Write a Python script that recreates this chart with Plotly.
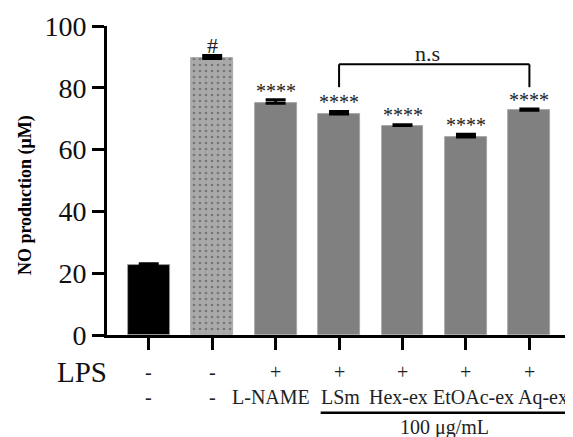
import plotly.graph_objects as go

# ---- data ----
groups = ["Control", "LPS", "L-NAME", "LSm", "Hex-ex", "EtOAc-ex", "Aq-ex"]
no_mean = [22.5, 89.5, 75.0, 71.5, 67.8, 64.1, 72.7]
no_err = [0.55, 0.95, 1.1, 0.8, 0.25, 0.9, 0.4]
lps_row = ["-", "-", "+", "+", "+", "+", "+"]
treat_row = ["-", "-", "L-NAME", "LSm", "Hex-ex", "EtOAc-ex", "Aq-ex"]
sig_marks = ["", "#", "****", "****", "****", "****", "****"]
y_ticks = [0, 20, 40, 60, 80, 100]
ns_pair = (3, 6)
ns_label = "n.s"
conc_label = "100 μg/mL"

# layout-only offsets of the treatment labels (category units)
treat_shift = [0, 0, -0.08, 0.02, -0.07, 0.126, 0.21]

FONT = "Liberation Serif"
x = list(range(len(groups)))

colors = ["#000000", "#a9a9a9", "#808080", "#808080", "#808080", "#808080", "#808080"]
shapes_pat = ["", ".", "", "", "", "", ""]

X0, X1 = -0.658, 6.64


def xp(v):
    return (v - X0) / (X1 - X0)


fig = go.Figure()
fig.add_trace(go.Bar(
    x=x, y=no_mean, width=0.66,
    marker=dict(color=colors, line=dict(color="#a0a0a0", width=0.8),
                pattern=dict(shape=shapes_pat, fgcolor="#2a2a2a", bgcolor=colors,
                             size=6, solidity=0.16, fillmode="overlay")),
    error_y=dict(type="data", array=no_err, arrayminus=[0]*len(no_err),
                 symmetric=False, color="black", thickness=3, width=10),
    showlegend=False,
))

ann = []
for i, m in enumerate(sig_marks):
    if m:
        is_star = m.startswith("*")
        ann.append(dict(x=x[i], y=no_mean[i] + no_err[i] + (3.0 if is_star else 3.4),
                        xref="x", yref="y",
                        text=m, showarrow=False, yanchor="middle", xanchor="center",
                        font=dict(family=FONT, size=20 if is_star else 22,
                                  color="#222")))

a, b = ns_pair
y_br = 87.6
y_end = 80.2
shapes = [
    dict(type="line", xref="x", yref="y", x0=x[a], x1=x[a], y0=y_end, y1=y_br,
         line=dict(color="black", width=2)),
    dict(type="line", xref="x", yref="y", x0=x[a], x1=x[b], y0=y_br, y1=y_br,
         line=dict(color="black", width=2)),
    dict(type="line", xref="x", yref="y", x0=x[b], x1=x[b], y0=y_end, y1=y_br,
         line=dict(color="black", width=2)),
]
ann.append(dict(x=4.4, y=y_br - 1.3, xref="x", yref="y", text=ns_label, showarrow=False,
                yanchor="bottom", xanchor="center",
                font=dict(family=FONT, size=22, color="#222")))

for i in range(len(groups)):
    ann.append(dict(x=xp(x[i]), y=-0.1206, xref="paper", yref="paper", text=lps_row[i],
                    showarrow=False, yanchor="middle", xanchor="center",
                    font=dict(family=FONT, size=20, color="#222")))
    ann.append(dict(x=xp(x[i] + treat_shift[i]), y=-0.201, xref="paper", yref="paper",
                    text=treat_row[i], showarrow=False, yanchor="middle", xanchor="center",
                    font=dict(family=FONT, size=20, color="#222")))
ann.append(dict(x=xp(-1.055), y=-0.121, xref="paper", yref="paper", text="LPS",
                showarrow=False, yanchor="middle", xanchor="center",
                font=dict(family=FONT, size=29, color="#111")))
shapes.append(dict(type="line", xref="paper", yref="paper", x0=xp(2.71), x1=1.0,
                   y0=-0.252, y1=-0.252, line=dict(color="black", width=2.5)))
ann.append(dict(x=xp(4.66), y=-0.299, xref="paper", yref="paper", text=conc_label,
                showarrow=False, yanchor="middle", xanchor="center",
                font=dict(family=FONT, size=20, color="#222")))

ann.append(dict(x=-0.177, y=0.453, xref="paper", yref="paper",
                text="<b>NO production (μM)</b>", textangle=-90, showarrow=False,
                xanchor="center", yanchor="middle",
                font=dict(family=FONT, size=18, color="black")))

# page body has an 8px margin, so the figure is 8px smaller on each side
fig.update_layout(
    width=565, height=429,
    margin=dict(l=99, r=3, t=16, b=102),
    paper_bgcolor="white", plot_bgcolor="white",
    annotations=ann, shapes=shapes,
    bargap=0,
)
fig.update_xaxes(range=[X0, X1], tickvals=x, ticktext=[""]*len(x),
                 showline=True, linecolor="black", linewidth=3,
                 ticks="outside", ticklen=12, tickwidth=3, tickcolor="black",
                 showgrid=False, zeroline=False)
fig.update_yaxes(range=[0, 100], tickvals=y_ticks,
                 showline=True, linecolor="black", linewidth=3,
                 ticks="outside", ticklen=12, tickwidth=2.5, tickcolor="black",
                 showgrid=False, zeroline=False,
                 tickfont=dict(family=FONT, size=28, color="#111"))

fig.write_html("out.html")
